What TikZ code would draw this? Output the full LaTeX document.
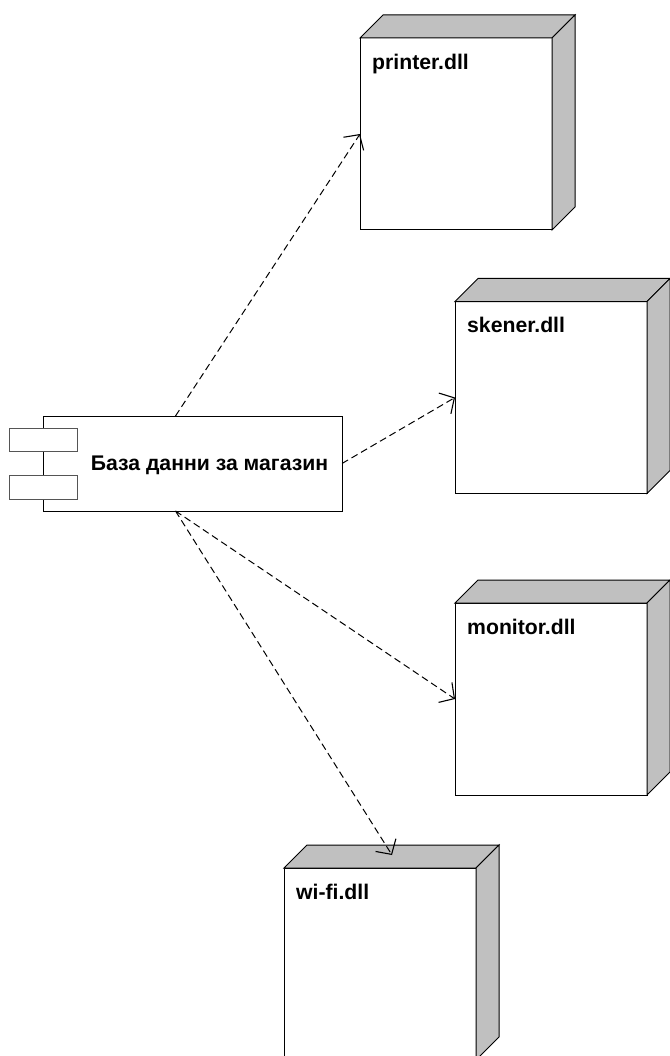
\documentclass[tikz,border=0pt]{standalone}
\usepackage{fontspec}
\setmainfont{Liberation Sans}
\usetikzlibrary{arrows.meta}
\definecolor{sidegray}{RGB}{192,192,192}
\definecolor{edgegray}{RGB}{85,85,85}
\begin{document}
\begin{tikzpicture}[x=1pt,y=-1pt,
  front/.style={draw=black, fill=white, line width=1pt, minimum width=192pt, minimum height=192pt, inner sep=0pt, outer sep=0pt},
  side/.style={draw=black, fill=sidegray, line width=1pt, line join=miter},
  lbl/.style={font=\bfseries\fontsize{21.2}{25}\selectfont, inner sep=0pt},
  comp/.style={draw=black, fill=white, line width=1pt, minimum width=299pt, minimum height=95pt, inner sep=0pt, outer sep=0pt},
  port/.style={draw=edgegray, fill=white, line width=1pt, minimum width=68pt, minimum height=23.5pt, inner sep=0pt, outer sep=0pt},
  dep/.style={draw=black, line width=1pt, dash pattern=on 7pt off 4pt, -{Straight Barb[length=11pt,width=24pt,line width=1.1pt]}}
]
\useasboundingbox (0,0) rectangle (669,1056);

% nodes (front faces)
\node[front] (printer) at (456,134) {};
\node[front] (skener) at (551,397.5) {};
\node[front] (monitor) at (551,699) {};
\node[front] (wifi) at (380,964) {};

\foreach \n in {printer,skener,monitor,wifi}{
  \draw[side] (\n.north west) -- ++(23,-23) -- ([shift={(23,-23)}]\n.north east) -- (\n.north east) -- cycle;
  \draw[side] (\n.north east) -- ([shift={(23,-23)}]\n.north east) -- ([shift={(23,-23)}]\n.south east) -- (\n.south east) -- cycle;
}

\node[lbl, anchor=base west] (tprinter) at ([shift={(12,32)}]printer.north west) {printer.dll};
\node[lbl, anchor=base west] (tskener) at ([shift={(12,31)}]skener.north west) {skener.dll};
\node[lbl, anchor=base west] (tmonitor) at ([shift={(12,31)}]monitor.north west) {monitor.dll};
\node[lbl, anchor=base west] (twifi) at ([shift={(12,31)}]wifi.north west) {wi-fi.dll};

% component
\node[comp] (comp) at (192.5,463.5) {};
\node[port] (p1) at (43,440) {};
\node[port] (p2) at (43,487.5) {};
\node[lbl, anchor=base] (ctext) at (209.5,470) {База данни за магазин};

% connectors
\coordinate (ct) at (175.5,416);
\coordinate (cb) at (175.5,511);
\coordinate (wifitip) at (392,855);
\draw[dep] (ct) -- (printer.west);
\draw[dep] (comp.east) -- (skener.west);
\draw[dep] (cb) -- (monitor.west);
\draw[dep] (cb) -- (wifitip);
\end{tikzpicture}
\end{document}
